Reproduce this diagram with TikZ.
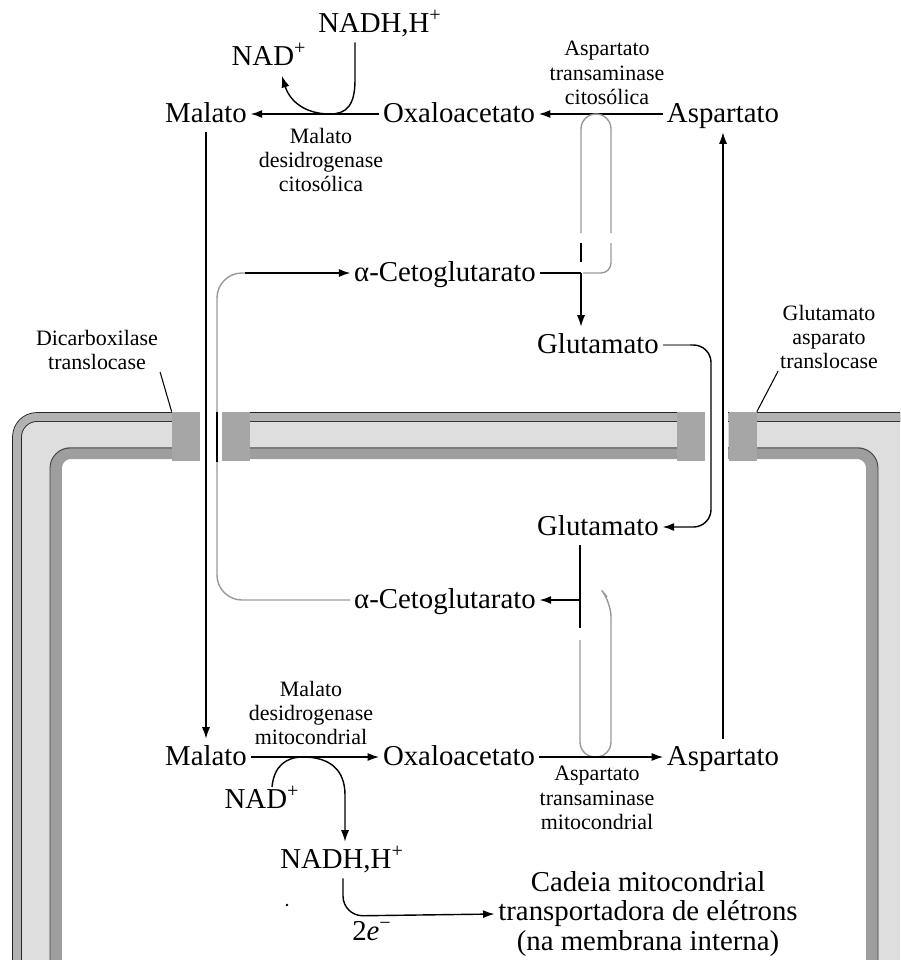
\documentclass[tikz,border=0pt]{standalone}
\usepackage{fontspec}
\setmainfont{Liberation Serif}
\usetikzlibrary{arrows.meta}

\begin{document}
\begin{tikzpicture}[x=0.02cm,y=-0.02cm,
    met/.style={font=\fontsize{16.4}{16.8}\selectfont,inner sep=2pt,text height=12.8pt,text depth=3.6pt},
    cadtxt/.style={font=\fontsize{16.4}{16.8}\selectfont,inner sep=2pt,align=center},
    enz/.style={font=\fontsize{12.5}{13.8}\selectfont,align=center,inner sep=1pt},
    arr/.style={draw=black,line width=0.8pt,-{Latex[length=0.23cm,width=0.16cm]}},
    ln/.style={draw=black,line width=0.8pt},
    gln/.style={draw=black!40,line width=0.8pt},
    tbox/.style={fill=black!35,minimum width=0.56cm,minimum height=0.98cm,inner sep=0pt}
    ]
        \useasboundingbox (0,0) rectangle (900,960);
        \clip (0,0) rectangle (900,960);

        % Membranes
        \fill[black!13,even odd rule,rounded corners=0.4cm] (17,990) -- (17,417) -- (930,417) -- (930,990) -- cycle
            (56,990) -- (56,453) -- (872,453) -- (872,990) -- cycle;
        \draw[black!38,line width=0.24cm,rounded corners=0.3cm] (56,990) -- (56,453) -- (872,453) -- (872,990); %inner membrane
        \draw[black!75,line width=0.5pt,rounded corners=0.4cm] (50,990) -- (50,448) -- (878,448) -- (878,990);
        \draw[black!85,line width=0.5pt,double=black!30,double distance=0.16cm,rounded corners=0.4cm]
            (17,990) -- (17,417) -- (930,417); %outer membrane
        \fill[white] (200,405) rectangle (222,470);
        \fill[white] (705,405) rectangle (728,470);
        \node[tbox] (tr1) at (186,436.5) {};
        \node[tbox] (tr2) at (236,436.5) {};
        \node[tbox] (tr3) at (691,436.5) {};
        \node[tbox] (tr4) at (742.5,436.5) {};

        % Cytosol
        \node[met] (nadhT) at (380,24) {NADH,H\textsuperscript{+}};
        \node[met] (nadT) at (269,57) {NAD\textsuperscript{+}};
        \node[met] (malT) at (206,114) {Malato};
        \node[met] (oxaT) at (459,114) {Oxaloacetato};
        \node[met] (aspT) at (723,114) {Aspartato};
        \node[met] (akgT) at (445,273) {α-Cetoglutarato};
        \node[met] (gluT) at (598,345) {Glutamato};
        \node[enz] (mdhC) at (321,160) {Malato\\desidrogenase\\citosólica};
        \node[enz] (astC) at (607,73) {Aspartato\\transaminase\\citosólica};
        \node[enz] (dicT) at (97,350) {Dicarboxilase\\translocase};
        \node[enz] (gatT) at (829,337) {Glutamato\\asparato\\translocase};

        % Matrix
        \node[met] (gluM) at (598,527) {Glutamato};
        \node[met] (akgM) at (445,600) {α-Cetoglutarato};
        \node[met] (malM) at (206,757) {Malato};
        \node[met] (oxaM) at (459,757) {Oxaloacetato};
        \node[met] (aspM) at (723,757) {Aspartato};
        \node[met] (nadM) at (262,800) {NAD\textsuperscript{+}};
        \node[met] (nadhM) at (342,860) {NADH,H\textsuperscript{+}};
        \node[cadtxt] (cad) at (648,914) {Cadeia mitocondrial\\transportadora de elétrons\\(na membrana interna)};
        \node[met] (elec) at (372,932) {2\textit{e}\textsuperscript{−}};
        \node[enz] (mdhM) at (311,713) {Malato\\desidrogenase\\mitocondrial};
        \node[enz] (astM) at (597,798) {Aspartato\\transaminase\\mitocondrial};
        \fill (287,905) circle (1.3);

        \coordinate (cT) at (355,0);
        \coordinate (nT) at (282,76);
        \coordinate (jT) at (581,273);
        \coordinate (jM) at (580,0);
        \coordinate (nM) at (272,787);
        \coordinate (cM) at (345,0);
        \coordinate (cB) at (343,0);

        % Cytosol reactions
        \draw[arr] (oxaT) -- (malT);
        \draw[arr] (cT |- nadhT.south) -- (355,80) .. controls (355,106) and (346,114) .. (330,114)
            .. controls (306,114) and (290,102) .. (nT);
        \draw[arr] (aspT) -- (oxaT);
        \draw[gln,rounded corners=0.3cm] (581,233) -- (581,114) -- (611,114) -- (611,233);
        \draw[ln] (581,243) -- (581,262);
        \draw[gln,rounded corners=0.2cm] (611,243) -- (611,273) -- (583,273);
        \draw[ln] (akgT) -- (jT);
        \draw[arr] (jT) -- (jT |- gluT.north);

        % Transport
        \draw[arr] (malT) -- (malM);
        \draw[gln,rounded corners=0.5cm] (akgM.west) -- (217,600) -- (217,273) -- (245,273);
        \draw[arr] (245,273) -- (akgT);
        \draw[ln] (217,412) -- (217,462);
        \draw[line width=0.8pt,black!45] (gluT) -- (690,345);
        \draw[arr,rounded corners=0.35cm] (690,345) -- (711,345) -- (711,527) -- (gluM);
        \draw[arr] (aspM) -- (aspT);
        \draw[line width=0.6pt] (dicT.south east) -- (tr1.north west);
        \draw[line width=0.6pt] (gatT.south west) -- (tr4.north east);

        % Matrix reactions
        \draw[ln] (jM |- gluM.south) -- (580,628);
        \draw[arr] (580,600) -- (akgM);
        \draw[gln,rounded corners=0.3cm] (580,640) -- (580,757) -- (611,757) -- (611,602) -- (607,597);
        \draw[arr] (malM) -- (oxaM);
        \draw[arr] (oxaM) -- (aspM);
        \draw[arr] (nM) .. controls (274,766) and (286,757) .. (303,757)
            .. controls (330,757) and (345,770) .. (345,795) -- (cM |- nadhM.north);
        \draw[arr,rounded corners=0.4cm] (cB |- nadhM.south) -- (343,916) -- (cad.west);
\end{tikzpicture}
\end{document}
